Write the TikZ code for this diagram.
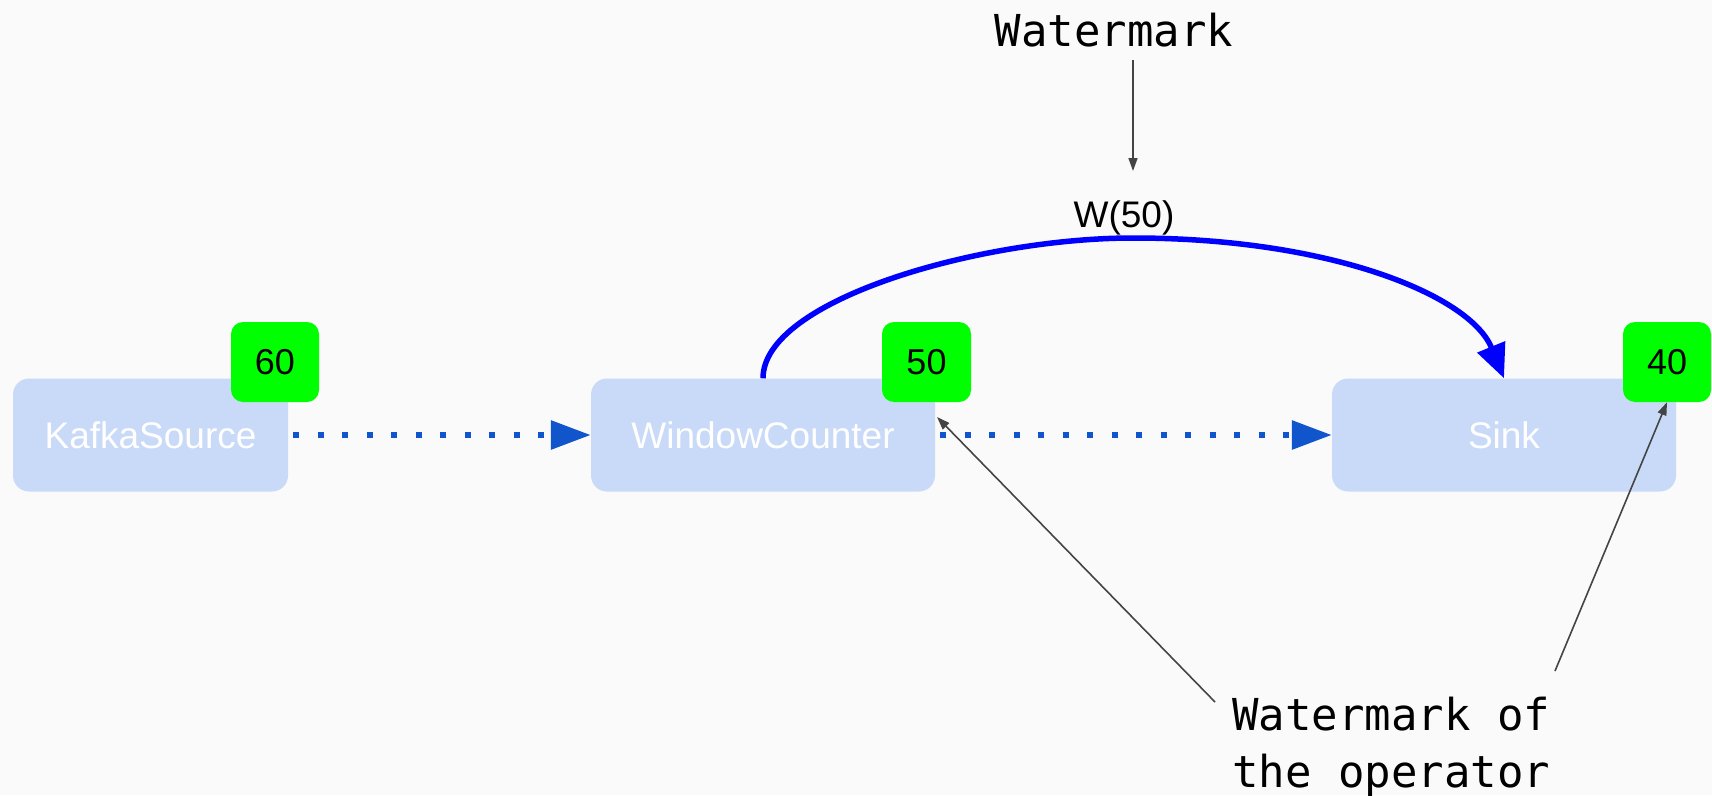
\documentclass[tikz,border=0pt]{standalone}
\usepackage{fontspec}
\setmainfont{Liberation Sans}
\newfontfamily\monofont{DejaVu Sans Mono}
\usetikzlibrary{arrows.meta}

\definecolor{pagebg}{HTML}{FAFAFA}
\definecolor{opfill}{HTML}{C9DAF8}
\definecolor{wmgreen}{HTML}{00FF00}
\definecolor{flowblue}{HTML}{1155CC}
\definecolor{wmblue}{HTML}{0000FF}
\definecolor{notegray}{HTML}{444444}

\tikzset{
  opbox/.style={rectangle, rounded corners=16pt, fill=opfill, draw=none,
    minimum height=113pt, inner sep=0pt, text=white,
    font=\fontsize{37}{40}\selectfont},
  badge/.style={rectangle, rounded corners=12pt, fill=wmgreen, draw=none,
    minimum width=88pt, minimum height=80pt, inner sep=0pt, text=black,
    font=\fontsize{36}{40}\selectfont},
  flow/.style={draw=flowblue, line width=6pt, dash pattern=on 6pt off 18.5pt,
    shorten <=5pt, -{Triangle[length=40pt,width=28pt]}},
  wmflow/.style={draw=wmblue, line width=5.5pt,
    -{Triangle[length=34pt,width=29pt]}},
  ptr/.style={draw=notegray, line width=1.6pt,
    -{Triangle[length=13pt,width=9pt]}},
  monotext/.style={inner sep=0pt, text=black,
    font=\monofont\fontsize{44}{57}\selectfont},
}

\begin{document}
\begin{tikzpicture}[x=1pt, y=-1pt]
  \fill[pagebg] (0,0) rectangle (1712,795);
  \useasboundingbox (0,0) rectangle (1712,795);

  % operators
  \node[opbox, minimum width=275pt] (ks) at (150.5,435) {KafkaSource};
  \node[opbox, minimum width=344pt] (wc) at (763,435) {WindowCounter};
  \node[opbox, minimum width=344pt] (sink) at (1504,435) {Sink};

  % per-operator watermarks
  \node[badge] (b60) at (275,362) {60};
  \node[badge, minimum width=89pt] (b50) at (926.5,362) {50};
  \node[badge] (b40) at (1667,362) {40};

  % data flow between operators
  \draw[flow] (ks.east) -- (wc.west);
  \draw[flow] (wc.east) -- (sink.west);

  % watermark travelling downstream
  \coordinate (peak) at (1133,238);
  \draw[wmflow] (wc.north) .. controls (763,300) and (980,238) .. (peak)
    .. controls (1330,238) and (1470,295) .. (sink.north);
  \node[anchor=base, inner sep=0pt, font=\fontsize{37}{40}\selectfont] (w50) at (1124,227) {W(50)};

  % annotations
  \node[monotext, anchor=base] (wm) at (1114,46) {Watermark};
  \coordinate (wmfrom) at (1133,60);
  \coordinate (wmto) at (1133,171);
  \draw[ptr] (wmfrom) -- (wmto);

  \node[monotext, anchor=north west, align=left] (opnote) at (1232,697)
    {Watermark of\\the operator};
  \coordinate (noteA) at (1215,702);
  \coordinate (noteB) at (1555,671);
  \coordinate (wcmark) at (937,417);
  \draw[ptr] (noteA) -- (wcmark);
  \draw[ptr] (noteB) -- (b40.south);
\end{tikzpicture}
\end{document}
